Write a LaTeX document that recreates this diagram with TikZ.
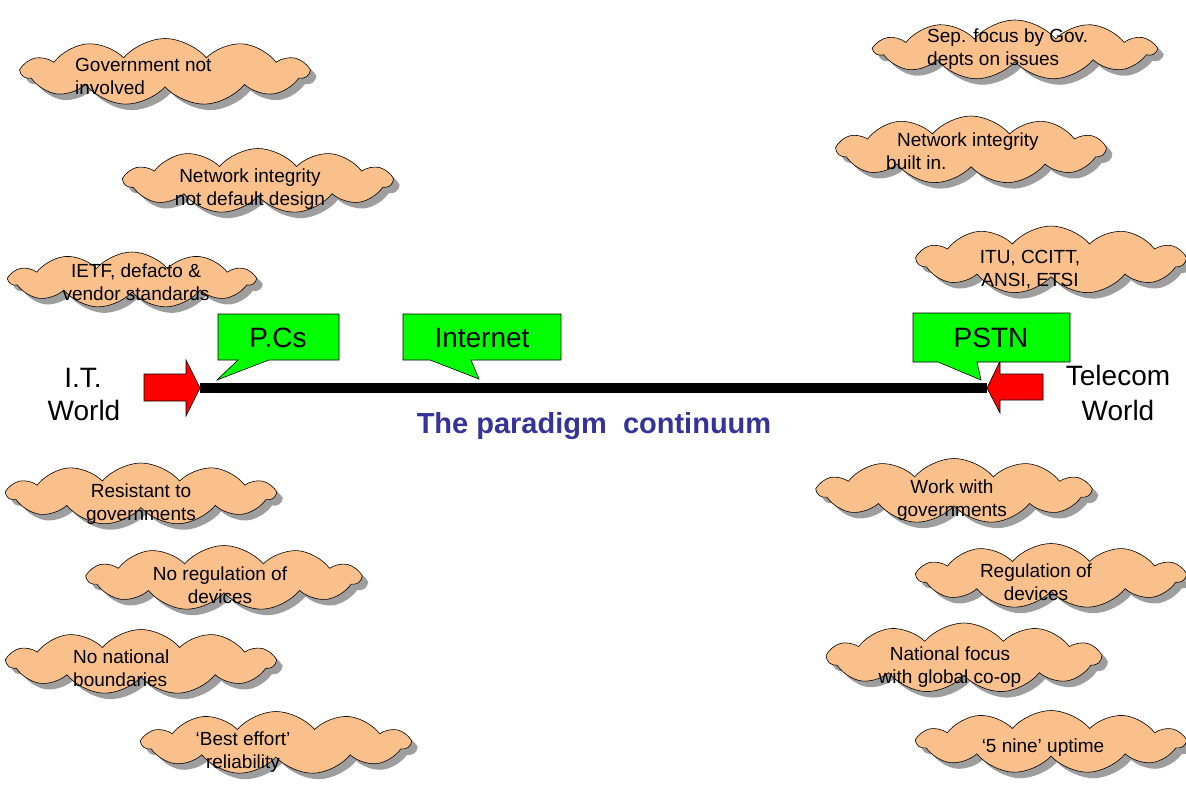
\documentclass[tikz,border=0pt]{standalone}
\usepackage{fontspec}
\setmainfont{Liberation Sans}
\usetikzlibrary{shapes.symbols,shadows}
\definecolor{cloudfill}{RGB}{250,192,140}
\definecolor{titleblue}{RGB}{51,51,153}
\definecolor{callgreen}{RGB}{0,255,0}
\begin{document}
\begin{tikzpicture}[x=1pt,y=-1pt,
  cloudbox/.style={cloud, cloud puffs=11, cloud puff arc=100, cloud ignores aspect,
    draw=black, line width=0.6pt, fill=cloudfill, inner sep=0pt,
    drop shadow={shadow xshift=6pt, shadow yshift=-6pt, fill=black!38, opacity=1}},
  cloudtext/.style={font=\fontsize{19}{23}\selectfont, align=center, inner sep=0pt, anchor=base},
  cloudtextl/.style={font=\fontsize{19}{23}\selectfont, align=left, inner sep=0pt, anchor=base west},
  bigtext/.style={font=\fontsize{28}{33}\selectfont, inner sep=0pt, anchor=base},
  callout/.style={draw=black, line width=0.6pt, fill=callgreen},
  redarrow/.style={draw=black, line width=0.6pt, fill=red}]
\useasboundingbox (0,0) rectangle (1186,789);

% clouds left (text anchors are at the baseline of the last line)
\node[cloudbox, minimum width=286pt, minimum height=67pt] (c1) at (165,72) {};
\node[cloudtextl] (t1) at (75,95) {Government not\\involved};
\node[cloudbox, minimum width=267pt, minimum height=65pt] (c2) at (258,181) {};
\node[cloudtext] (t2) at (250,205) {Network integrity\\not default design};
\node[cloudbox, minimum width=245pt, minimum height=56pt] (c3) at (132,280) {};
\node[cloudtext] (t3) at (136,300) {IETF, defacto \&\\vendor standards};
\node[cloudbox, minimum width=267pt, minimum height=62pt] (c4) at (141,494) {};
\node[cloudtext] (t4) at (141,520) {Resistant to\\governments};
\node[cloudbox, minimum width=272pt, minimum height=65pt] (c5) at (224,578) {};
\node[cloudtext] (t5) at (220,603) {No regulation of\\devices};
\node[cloudbox, minimum width=267pt, minimum height=65pt] (c6) at (141,662) {};
\node[cloudtextl] (t6) at (73,686) {No national\\boundaries};
\node[cloudbox, minimum width=267pt, minimum height=63pt] (c7) at (276,743) {};
\node[cloudtext] (t7) at (243,768) {‘Best effort’\\reliability};

% clouds right
\node[cloudbox, minimum width=280pt, minimum height=60pt] (c8) at (1015,50) {};
\node[cloudtextl] (t8) at (927,66) {Sep. focus by Gov.\\depts on issues};
\node[cloudbox, minimum width=267pt, minimum height=68pt] (c9) at (971,150) {};
\node[cloudtextl] (t9) at (886,169) {\hspace*{11pt}Network integrity\\built in.};
\node[cloudbox, minimum width=267pt, minimum height=68pt] (c10) at (1051,260) {};
\node[cloudtext] (t10) at (1030,286) {ITU, CCITT,\\ANSI, ETSI};
\node[cloudbox, minimum width=272pt, minimum height=65pt] (c11) at (954,491) {};
\node[cloudtext] (t11) at (952,516) {Work with\\governments};
\node[cloudbox, minimum width=267pt, minimum height=65pt] (c12) at (1051,576) {};
\node[cloudtext] (t12) at (1036,600) {Regulation of\\devices};
\node[cloudbox, minimum width=272pt, minimum height=70pt] (c13) at (964,658) {};
\node[cloudtext] (t13) at (950,683) {National focus\\with global co-op};
\node[cloudbox, minimum width=267pt, minimum height=63pt] (c14) at (1051,742) {};
\node[cloudtext] (t14) at (1043,752) {‘5 nine’ uptime};

% continuum line and arrows
\coordinate (ltip) at (200,388);
\coordinate (rtip) at (987,388);
\draw[line width=10pt] (ltip) -- (rtip);
\draw[redarrow] (144,374) -- (186,374) -- (186,360) -- (ltip) -- (186,416) -- (186,401) -- (144,401) -- cycle;
\draw[redarrow] (1043,374) -- (1000,374) -- (1000,361) -- (rtip) -- (1000,413) -- (1000,400) -- (1043,400) -- cycle;

% callouts
\coordinate (pcstip) at (217,380);
\draw[callout] (218,314) -- (339,314) -- (339,360) -- (269,360) -- (pcstip) -- (238,360) -- (218,360) -- cycle;
\node[bigtext] (pcs) at (278,347) {P.Cs};
\coordinate (inettip) at (479,379);
\draw[callout] (403,314) -- (561,314) -- (561,360) -- (471,360) -- (inettip) -- (430,360) -- (403,360) -- cycle;
\node[bigtext] (inet) at (482,347) {Internet};
\coordinate (pstntip) at (981,380);
\draw[callout] (913,313) -- (1070,313) -- (1070,362) -- (977,362) -- (pstntip) -- (938,362) -- (913,362) -- cycle;
\node[bigtext] (pstn) at (991,347) {PSTN};

% side labels
\node[bigtext] (it1) at (83,387) {I.T.};
\node[bigtext] (it2) at (84,420) {World};
\node[bigtext] (tel1) at (1118,385) {Telecom};
\node[bigtext] (tel2) at (1118,420) {World};

% title
\node[inner sep=0pt, anchor=base, text=titleblue, font=\bfseries\fontsize{29}{34}\selectfont] (title) at (594,433) {The paradigm\ \ continuum};
\end{tikzpicture}
\end{document}
